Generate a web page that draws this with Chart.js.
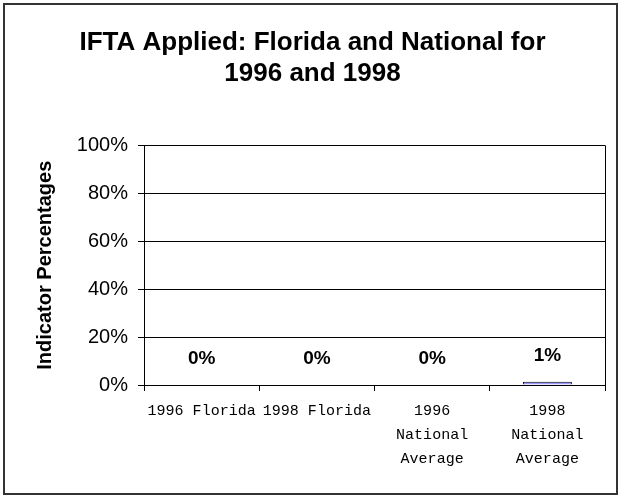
<!DOCTYPE html>
<html>
<head>
<meta charset="utf-8">
<script src="https://cdn.jsdelivr.net/npm/chart.js@4"></script>
<style>
  html, body { margin: 0; padding: 0; background: #fff; }
  #wrap { width: 622px; height: 500px; }
</style>
</head>
<body>
<div id="wrap"><canvas id="iftaChart" width="622" height="500"></canvas></div>
<script>
// Chart data
const categories = [
  ['1996 Florida'],
  ['1998 Florida'],
  ['1996', 'National', 'Average'],
  ['1998', 'National', 'Average']
];
const percentages = [0, 0, 0, 1.4];
const yTicks = [0, 20, 40, 60, 80, 100];

const titleLines = ['IFTA Applied: Florida and National for', '1996 and 1998'];
const yTitle = 'Indicator Percentages';

// Frame around the picture, right edge of plot area, value labels
const framePlugin = {
  id: 'frame',
  afterDraw(chart) {
    const ctx = chart.ctx;
    const area = chart.chartArea;
    ctx.save();
    ctx.strokeStyle = '#000';
    ctx.lineWidth = 1;
    ctx.beginPath();
    ctx.moveTo(Math.round(area.right) + 0.5, area.top);
    ctx.lineTo(Math.round(area.right) + 0.5, area.bottom);
    ctx.stroke();

    ctx.strokeStyle = '#333';
    ctx.lineWidth = 2;
    ctx.strokeRect(4, 4, 613, 490);

    // value labels above bars
    const meta = chart.getDatasetMeta(0);
    ctx.fillStyle = '#000';
    ctx.font = 'bold 19px "Liberation Sans", Arial, sans-serif';
    ctx.textAlign = 'center';
    ctx.textBaseline = 'middle';
    meta.data.forEach((bar, i) => {
      const v = chart.data.datasets[0].data[i];
      ctx.fillText(Math.round(v) + '%', bar.x, bar.y - 26);
    });
    ctx.restore();
  }
};

const ctx = document.getElementById('iftaChart');
new Chart(ctx, {
  type: 'bar',
  data: {
    labels: categories,
    datasets: [{
      data: percentages,
      backgroundColor: '#9999FF',
      borderColor: '#000',
      borderWidth: 1,
      categoryPercentage: 1,
      barPercentage: 0.425
    }]
  },
  options: {
    responsive: false,
    animation: false,
    devicePixelRatio: 1,
    layout: {
      padding: { left: 20, right: 17, top: 12, bottom: 10 }
    },
    plugins: {
      legend: { display: false },
      tooltip: { enabled: false },
      title: {
        display: true,
        text: titleLines,
        color: '#000',
        font: { family: '"Liberation Sans", Arial, sans-serif', size: 26, weight: 'bold', lineHeight: 1.2 },
        padding: { top: 15, bottom: 56 }
      }
    },
    scales: {
      x: {
        offset: true,
        grid: {
          offset: true,
          drawOnChartArea: false,
          drawTicks: true,
          tickLength: 6,
          tickColor: '#000'
        },
        border: { color: '#000', width: 1 },
        ticks: {
          color: '#000',
          maxRotation: 0,
          autoSkip: false,
          padding: 8,
          font: { family: '"Liberation Mono", "Courier New", monospace', size: 15, lineHeight: 1.6 }
        },
        afterFit(scale) { scale.height = 105; }
      },
      y: {
        min: 0,
        max: 100,
        afterBuildTicks(scale) {
          scale.ticks = yTicks.map(v => ({ value: v }));
        },
        grid: {
          color: '#000',
          lineWidth: 1,
          drawTicks: true,
          tickLength: 6,
          tickColor: '#000'
        },
        border: { color: '#000', width: 1 },
        ticks: {
          color: '#000',
          padding: 10,
          font: { family: '"Liberation Sans", Arial, sans-serif', size: 20 },
          callback: v => v + '%'
        },
        title: {
          display: true,
          text: yTitle,
          color: '#000',
          padding: { top: 13, bottom: 0 },
          font: { family: '"Liberation Sans", Arial, sans-serif', size: 20, weight: 'bold' }
        },
        afterFit(scale) { scale.width = 124; }
      }
    }
  },
  plugins: [framePlugin]
});
</script>
</body>
</html>
